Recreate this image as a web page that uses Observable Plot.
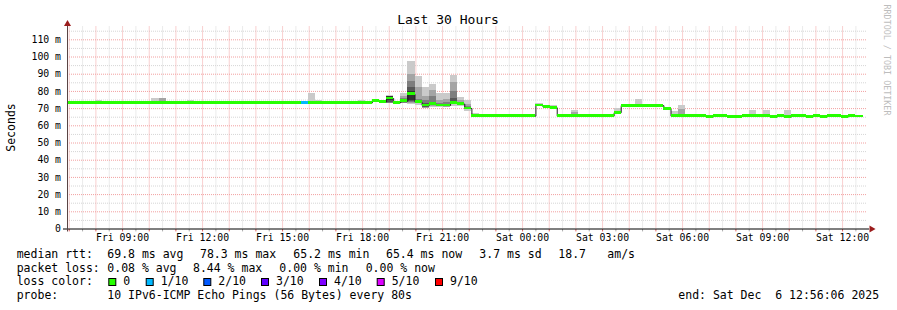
<!DOCTYPE html>
<html><head><meta charset="utf-8">
<script src="https://cdn.jsdelivr.net/npm/d3@7"></script>
<script src="https://cdn.jsdelivr.net/npm/@observablehq/plot@0.6"></script>
<style>
html,body{margin:0;padding:0;background:#fff;}
#chart{position:relative;width:897px;height:310px;overflow:hidden;}
svg text{white-space:pre;}
</style></head><body><div id="chart"></div>
<script>
// ---- data ----
// median rtt per 16-minute bin, in ms (first bin starts Fri 06:54 UTC)
const medianRtt = [
 73.3,73.3,73.3,73.3,73.3,73.3,73.3,73.3,73.3,73.3,
 73.3,73.3,73.3,73.3,73.3,73.3,73.3,73.3,73.3,73.3,
 73.3,73.3,73.3,73.3,73.3,73.3,73.3,73.3,73.3,73.3,
 73.3,73.3,73.3,73.3,73.3,73.3,73.3,73.3,73.3,73.3,
 73.3,73.3,73.3,74.5,73.9,75.9,73.4,74.3,78.3,73.7,
 71.8,72.6,71.8,71.8,73.4,72.6,70.1,65.6,65.6,65.6,
 65.6,65.6,65.6,65.6,65.6,65.6,71.8,70.9,70.5,65.6,
 65.6,65.6,65.6,65.6,65.6,65.6,65.6,67.6,71.7,71.7,
 71.7,71.7,71.7,71.7,69.9,65.6,65.6,65.6,65.6,65.6,
 65.2,65.6,65.6,65.2,65.2,65.6,65.6,65.6,65.6,65.2,
 65.6,65.2,65.6,65.6,65.2,65.6,65.2,65.6,65.6,65.2,
 65.6,65.4
];
// bins with packet loss (index) and lost pings out of 10
const lossBins = [33];
const lossCounts = [1];
// bins with visible smoke, and their 10 sorted ping times (ms)
const smokeBins = [4,12,13,14,17,23,24,34,35,41,45,47,48,49,50,51,52,53,54,55,56,57,60,63,65,66,68,70,71,76,77,80,85,86,89,91,92,96,98,101];
const smokePings = [
 [73.0,73.1,73.2,73.2,73.3,73.3,73.4,73.5,73.7,74.7],
 [73.0,73.1,73.2,73.2,73.3,73.3,73.4,73.5,73.8,75.9],
 [73.0,73.1,73.2,73.2,73.3,73.3,73.4,73.6,75.8,76.0],
 [73.0,73.1,73.2,73.2,73.3,73.3,73.4,73.5,73.7,74.3],
 [73.0,73.1,73.2,73.2,73.3,73.3,73.4,73.5,73.7,74.7],
 [73.0,73.1,73.2,73.2,73.3,73.3,73.4,73.5,73.6,74.2],
 [73.0,73.1,73.2,73.2,73.3,73.3,73.4,73.5,73.6,74.2],
 [73.0,73.1,73.2,73.2,73.3,73.3,73.4,73.6,74.4,78.8],
 [73.0,73.1,73.2,73.2,73.3,73.3,73.4,73.5,73.7,74.9],
 [73.0,73.1,73.2,73.2,73.3,73.3,73.4,73.5,73.7,74.9],
 [73.0,73.1,73.2,73.4,74.6,77.0,77.1,77.2,77.3,77.5],
 [72.8,73.0,73.2,73.3,73.4,75.1,75.5,76.0,77.0,78.6],
 [72.5,73.0,73.6,74.2,75.0,80.0,82.5,86.0,90.0,97.5],
 [72.0,72.8,73.2,73.5,73.6,73.8,74.2,75.5,82.5,88.8],
 [69.8,70.2,70.5,70.8,71.3,72.3,73.0,74.5,77.0,82.5],
 [70.5,71.2,71.8,72.2,72.4,72.8,73.6,77.0,80.7,84.0],
 [70.5,71.0,71.3,71.5,71.7,71.9,72.3,73.0,74.5,79.0],
 [70.6,70.9,71.2,71.4,71.6,72.0,72.5,73.5,75.5,78.8],
 [71.5,72.2,72.8,73.1,73.3,73.6,76.0,80.0,85.0,89.0],
 [71.0,71.6,72.0,72.3,72.5,72.7,73.0,73.5,74.5,76.6],
 [68.5,69.2,69.6,69.9,70.0,70.2,70.5,71.0,72.5,74.9],
 [65.3,65.4,65.5,65.5,65.6,65.6,65.7,65.8,66.0,67.3],
 [65.3,65.4,65.5,65.5,65.6,65.6,65.7,65.8,65.9,66.4],
 [65.3,65.4,65.5,65.5,65.6,65.6,65.7,65.8,65.9,66.6],
 [65.3,65.4,65.5,65.5,65.6,65.6,65.7,65.8,65.9,66.6],
 [71.5,71.6,71.7,71.7,71.8,71.8,71.9,72.0,72.2,72.8],
 [70.2,70.3,70.4,70.4,70.5,70.5,70.6,70.7,70.9,71.8],
 [65.3,65.4,65.5,65.5,65.6,65.6,65.7,65.8,65.9,66.6],
 [65.3,65.4,65.5,65.5,65.6,65.6,65.7,65.9,67.6,68.9],
 [65.3,65.4,65.5,65.5,65.6,65.6,65.7,65.8,65.9,66.6],
 [67.3,67.4,67.5,67.5,67.6,67.6,67.7,67.8,68.0,69.9],
 [71.4,71.5,71.6,71.6,71.7,71.7,71.8,71.9,72.1,75.3],
 [65.3,65.4,65.5,65.5,65.6,65.6,65.7,65.8,66.0,68.5],
 [65.3,65.4,65.5,65.5,65.6,65.6,65.7,65.9,69.7,72.0],
 [65.3,65.4,65.5,65.5,65.6,65.6,65.7,65.8,65.9,66.6],
 [65.3,65.4,65.5,65.5,65.6,65.6,65.7,65.8,65.9,66.6],
 [65.3,65.4,65.5,65.5,65.6,65.6,65.7,65.8,65.9,66.6],
 [65.3,65.4,65.5,65.5,65.6,65.6,65.7,65.8,66.0,68.9],
 [65.3,65.4,65.5,65.5,65.6,65.6,65.7,65.8,66.0,68.9],
 [64.9,65.0,65.1,65.1,65.2,65.2,65.3,65.4,65.6,68.9]
];
const yTicks = [0,10,20,30,40,50,60,70,80,90,100,110];
const yTickLabels = ["0","10 m","20 m","30 m","40 m","50 m","60 m","70 m","80 m","90 m","100 m","110 m"];
const xTickTimes = ["2025-12-05T09:00:00Z","2025-12-05T12:00:00Z","2025-12-05T15:00:00Z","2025-12-05T18:00:00Z","2025-12-05T21:00:00Z","2025-12-06T00:00:00Z","2025-12-06T03:00:00Z","2025-12-06T06:00:00Z","2025-12-06T09:00:00Z","2025-12-06T12:00:00Z"];
const xTickLabels = ["Fri 09:00","Fri 12:00","Fri 15:00","Fri 18:00","Fri 21:00","Sat 00:00","Sat 03:00","Sat 06:00","Sat 09:00","Sat 12:00"];
const lossLegendCounts = [0,1,2,3,4,5,9];
const lossLegendLabels = ["0","1/10","2/10","3/10","4/10","5/10","9/10"];
const lossLegendColors = ["#26ff00","#00b8ff","#0059ff","#5e00ff","#7e00ff","#dd00ff","#ff0000"];
const rttStats = ["69.8 ms avg","78.3 ms max","65.2 ms min","65.4 ms now","3.7 ms sd","18.7","am/s"];
const lossStats = ["0.08 % avg","8.44 % max","0.00 % min","0.00 % now"];
const probeText = "10 IPv6-ICMP Echo Pings (56 Bytes) every 80s";
const endText = "end: Sat Dec  6 12:56:06 2025";
const titleText = "Last 30 Hours";

// ---- build ----
const start = new Date("2025-12-05T06:56:06Z");
const end = new Date("2025-12-06T12:56:06Z");
const binOrigin = Date.parse("2025-12-05T06:54:00Z");
const BIN = 16 * 60 * 1000;
const yMax = 117.45;
const sw = 0.8;
const colorOfLoss = c => lossLegendColors[lossLegendCounts.indexOf(c)] || "#ff0000";
const bins = medianRtt.map((m, i) => {
  const li = lossBins.indexOf(i);
  return {t0: new Date(binOrigin + i * BIN), t1: new Date(binOrigin + (i + 1) * BIN), m, loss: li >= 0 ? lossCounts[li] : 0};
});
const shades = ["#cacaca","#a4a4a4","#7e7e7e","#585858","#323232"];
const smokeRects = [];
smokeBins.forEach((b, j) => {
  const p = smokePings[j];
  for (let k = 0; k < 5; k++) smokeRects.push({t0: bins[b].t0, t1: bins[b].t1, lo: p[k], hi: p[9 - k], shade: shades[k]});
});
const linePts = bins.map(d => ({t: d.t0, m: d.m})).concat([{t: bins[bins.length - 1].t1, m: bins[bins.length - 1].m}]);

const GRID = "#d6d6d6", MGRID = "#f2a0a0", ARROW = "#9b1c1c";
const hours = d3.utcHour.range(start, end);
const halfHours = d3.utcMinute.every(30).range(start, end).filter(d => d.getUTCMinutes() === 30);
const minorY = [5,15,25,35,45,55,65,75,85,95,105,115];
const majorY = [10,20,30,40,50,60,70,80,90,100,110];
const xLabelMap = new Map(xTickTimes.map((t, i) => [Date.parse(t), xTickLabels[i]]));
const yLabelMap = new Map(yTicks.map((v, i) => [v, yTickLabels[i]]));
const font = "DejaVu Sans Mono";

const svg = Plot.plot({
  width: 897, height: 310,
  marginLeft: 67, marginRight: 30, marginTop: 26.5, marginBottom: 81.5,
  style: {fontFamily: font, fontSize: "9.8px", color: "#000", background: "#fff", overflow: "visible"},
  x: {type: "utc", domain: [start, end]},
  y: {domain: [0, yMax]},
  color: {type: "identity"},
  marks: [
    Plot.ruleX(halfHours, {stroke: GRID, strokeDasharray: "1,1"}),
    Plot.ruleY(minorY, {stroke: GRID, strokeDasharray: "1,1"}),
    Plot.ruleX(hours, {stroke: MGRID, strokeDasharray: "1,1"}),
    Plot.ruleY(majorY, {stroke: MGRID, strokeDasharray: "1,1"}),
    Plot.link(halfHours, {x1: d => d, x2: d => d, y1: 0, y2: -1.4, stroke: "#aaaaaa"}),
    Plot.link(hours, {x1: d => d, x2: d => d, y1: 0, y2: -1.4, stroke: "#e06060"}),
    Plot.rect(smokeRects, {x1: "t0", x2: "t1", y1: "lo", y2: "hi", fill: "shade", clip: true, shapeRendering: "crispEdges"}),
    Plot.line(linePts, {x: "t", y: "m", curve: "step-after", stroke: "#202020", strokeWidth: 1, clip: true}),
    Plot.rect(bins, {x1: "t0", x2: "t1", y1: d => d.m - sw, y2: d => d.m + sw, fill: d => colorOfLoss(d.loss), clip: true, shapeRendering: "crispEdges"}),
    Plot.ruleY([0], {stroke: "#000", insetLeft: -4, insetRight: -2}),
    Plot.ruleX([start], {stroke: "#5a4444", insetTop: -3, insetBottom: -3}),
    Plot.dot([end], {x: d => d, y: () => 0, symbol: "triangle", r: 2.6, rotate: 90, dx: 4, fill: ARROW, stroke: "none"}),
    Plot.dot([start], {x: d => d, y: () => yMax, symbol: "triangle", r: 2.6, dy: -3, fill: ARROW, stroke: "none"}),
    Plot.axisY({ticks: yTicks, tickFormat: d => yLabelMap.get(d), tickSize: 0, tickPadding: 6.5, fontSize: "9.8px", label: null}),
    Plot.axisX({ticks: xTickTimes.map(t => new Date(t)), tickFormat: d => xLabelMap.get(+d), tickSize: 0, tickPadding: 5.2, fontSize: "9.8px", label: null})
  ]
});
document.getElementById("chart").appendChild(svg);

// ---- texts: title, axis label, watermark, legend ----
const s = d3.select(svg);
const g = s.append("g").attr("font-family", font).attr("fill", "#000").attr("text-anchor", "start");
g.append("text").attr("x", 448).attr("y", 24).attr("text-anchor", "middle").attr("font-size", "13px").text(titleText);
g.append("text").attr("transform", "translate(15.3,127.5) rotate(-90)").attr("text-anchor", "middle").attr("font-size", "11.5px").text("Seconds");
g.append("text").attr("transform", "translate(884,60) rotate(90)").attr("text-anchor", "middle").attr("font-size", "8.4px").attr("fill", "#bdbdbd").text("RRDTOOL / TOBI OETIKER");

const lf = "11.5px";
const rows = [258.3, 271.8, 285.3, 298.8];
const put = (x, y, t) => g.append("text").attr("x", x).attr("y", y).attr("font-size", lf).attr("text-anchor", "start").text(t);
put(16.7, rows[0], "median rtt:");
[107.3, 200, 293.3, 386, 479.3, 558.3, 607.3].forEach((x, i) => put(x, rows[0], rttStats[i]));
put(16.7, rows[1], "packet loss:");
[107.3, 193, 279.3, 365.7].forEach((x, i) => put(x, rows[1], lossStats[i]));
put(16.7, rows[2], "loss color:");
[108.3, 145.7, 203.3, 261, 319, 376.7, 435].forEach((x, i) => {
  g.append("rect").attr("x", x + 0.5).attr("y", 278.5).attr("width", 7).attr("height", 7)
    .attr("fill", lossLegendColors[i]).attr("stroke", "#000").attr("stroke-width", 1);
  put(x + 15, rows[2], lossLegendLabels[i]);
});
put(16.7, rows[3], "probe:");
put(107.3, rows[3], probeText);
put(678.3, rows[3], endText);
</script></body></html>
